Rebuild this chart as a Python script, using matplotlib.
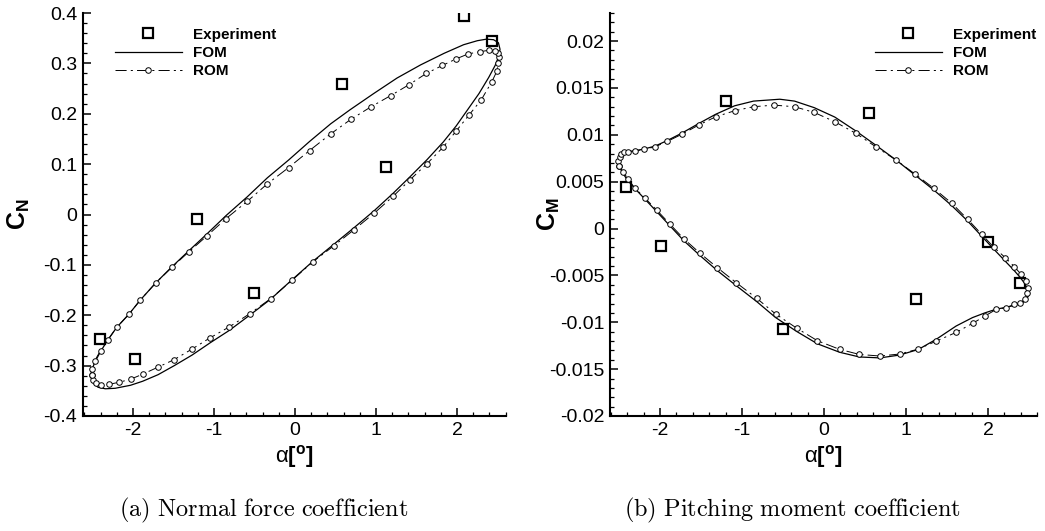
import numpy as np
import matplotlib
matplotlib.use("Agg")
import matplotlib.pyplot as plt
from matplotlib.ticker import MultipleLocator, FuncFormatter

plt.rcParams['font.family'] = ['Liberation Sans', 'DejaVu Sans']
plt.rcParams['mathtext.fontset'] = 'custom'
plt.rcParams['mathtext.rm'] = 'Liberation Sans'
plt.rcParams['mathtext.bf'] = 'Liberation Sans:bold'
plt.rcParams['mathtext.it'] = 'Liberation Sans:italic'
plt.rcParams['axes.unicode_minus'] = False
plt.rcParams['lines.scale_dashes'] = False

# ---- data ----
# (a) normal force coefficient
exp_n_alpha = [2.09, 2.43, 0.58, 1.12, -1.21, -0.51, -2.41, -1.98]
exp_n_cn = [0.394, 0.345, 0.259, 0.095, -0.009, -0.155, -0.248, -0.287]

fom_n_alpha = [-2.52, -2.49, -2.43, -2.34, -2.22, -2.03, -1.88, -1.69, -1.49, -1.27,
               -1.05, -0.81, -0.56, -0.30, -0.04, 0.22, 0.48, 0.73, 0.98, 1.21,
               1.42, 1.63, 1.83, 1.99, 2.13, 2.27, 2.39, 2.47, 2.51, 2.53,
               2.51, 2.45, 2.36, 2.25, 2.08, 1.84, 1.55, 1.26, 0.97, 0.68,
               0.44, 0.18, -0.08, -0.34, -0.59, -0.85, -1.09, -1.31, -1.52, -1.72,
               -1.91, -2.05, -2.20, -2.31, -2.40, -2.47, -2.51]
fom_n_cn = [-0.322, -0.335, -0.343, -0.346, -0.345, -0.339, -0.331, -0.318, -0.300, -0.279,
            -0.255, -0.230, -0.200, -0.168, -0.130, -0.093, -0.059, -0.026, 0.008, 0.042,
            0.075, 0.109, 0.144, 0.176, 0.208, 0.240, 0.272, 0.296, 0.312, 0.328,
            0.341, 0.347, 0.348, 0.345, 0.337, 0.320, 0.297, 0.271, 0.240, 0.208,
            0.180, 0.145, 0.108, 0.073, 0.035, -0.002, -0.039, -0.072, -0.104, -0.136,
            -0.170, -0.198, -0.224, -0.249, -0.272, -0.293, -0.310]

rom_n_alpha = [-2.51, -2.49, -2.45, -2.40, -2.29, -2.17, -2.03, -1.88, -1.69, -1.49,
               -1.27, -1.05, -0.81, -0.56, -0.30, -0.04, 0.22, 0.48, 0.73, 0.98,
               1.21, 1.42, 1.63, 1.83, 1.99, 2.15, 2.30, 2.43, 2.49, 2.51,
               2.52, 2.51, 2.47, 2.39, 2.28, 2.14, 1.99, 1.82, 1.62, 1.41,
               1.18, 0.94, 0.69, 0.44, 0.18, -0.08, -0.34, -0.59, -0.85, -1.09,
               -1.31, -1.52, -1.72, -1.91, -2.05, -2.20, -2.31, -2.40, -2.47, -2.51]
rom_n_cn = [-0.319, -0.329, -0.335, -0.339, -0.337, -0.333, -0.327, -0.317, -0.303, -0.288,
            -0.267, -0.245, -0.223, -0.197, -0.167, -0.131, -0.094, -0.062, -0.030, 0.003,
            0.036, 0.069, 0.101, 0.134, 0.166, 0.198, 0.228, 0.264, 0.284, 0.301,
            0.313, 0.321, 0.325, 0.326, 0.323, 0.319, 0.309, 0.296, 0.280, 0.258,
            0.236, 0.214, 0.189, 0.160, 0.127, 0.093, 0.061, 0.026, -0.008, -0.043,
            -0.074, -0.105, -0.136, -0.170, -0.198, -0.224, -0.249, -0.270, -0.290, -0.307]

# (b) pitching moment coefficient
exp_m_alpha = [-1.19, 0.55, -2.42, -1.99, 2.00, 2.39, 1.12, -0.50]
exp_m_cm = [0.01364, 0.01235, 0.00439, -0.00187, -0.00148, -0.00578, -0.00752, -0.01076]

fom_m_alpha = [-2.52, -2.50, -2.46, -2.40, -2.30, -2.19, -2.06, -1.91, -1.73, -1.53,
               -1.32, -1.09, -0.86, -0.54, -0.36, -0.12, 0.13, 0.39, 0.63, 0.88,
               1.11, 1.34, 1.55, 1.74, 1.91, 2.07, 2.20, 2.31, 2.39, 2.45,
               2.49, 2.49, 2.46, 2.40, 2.32, 2.22, 2.10, 1.96, 1.81, 1.61,
               1.37, 1.15, 0.92, 0.68, 0.43, 0.19, -0.08, -0.33, -0.59, -0.82,
               -1.07, -1.30, -1.51, -1.71, -1.88, -2.04, -2.18, -2.31, -2.40, -2.46]
fom_m_cm = [0.0070, 0.0076, 0.0080, 0.0082, 0.0083, 0.0085, 0.0088, 0.0094, 0.0102, 0.0112,
            0.0122, 0.0131, 0.0136, 0.0138, 0.0136, 0.0129, 0.0119, 0.0104, 0.0089, 0.0073,
            0.0057, 0.0041, 0.0025, 0.0009, -0.0007, -0.0022, -0.0034, -0.0044, -0.0052, -0.0059,
            -0.0067, -0.0072, -0.0077, -0.0080, -0.0082, -0.0084, -0.0086, -0.0090, -0.0095, -0.0104,
            -0.0118, -0.0129, -0.0135, -0.0138, -0.0137, -0.0132, -0.0123, -0.0110, -0.0095, -0.0078,
            -0.0061, -0.0045, -0.0029, -0.0013, 0.0003, 0.0018, 0.0031, 0.0043, 0.0052, 0.0060]

rom_m_alpha = [-2.50, -2.51, -2.49, -2.47, -2.44, -2.39, -2.31, -2.19, -2.06, -1.91,
               -1.73, -1.53, -1.32, -1.09, -0.86, -0.61, -0.36, -0.12, 0.13, 0.39,
               0.63, 0.88, 1.11, 1.34, 1.56, 1.75, 1.92, 2.07, 2.21, 2.32,
               2.40, 2.46, 2.49, 2.48, 2.45, 2.39, 2.32, 2.22, 2.10, 1.96,
               1.81, 1.61, 1.37, 1.15, 0.92, 0.68, 0.43, 0.19, -0.08, -0.33,
               -0.59, -0.82, -1.07, -1.30, -1.51, -1.71, -1.88, -2.04, -2.18, -2.31,
               -2.39, -2.45]
rom_m_cm = [0.00667, 0.00723, 0.00766, 0.00794, 0.00819, 0.00816, 0.00830, 0.00844, 0.00873, 0.00930,
            0.01008, 0.01104, 0.01193, 0.01257, 0.01300, 0.01317, 0.01300, 0.01239, 0.01140, 0.01015,
            0.00873, 0.00730, 0.00581, 0.00428, 0.00268, 0.00100, -0.00059, -0.00200, -0.00311, -0.00407,
            -0.00486, -0.00560, -0.00638, -0.00692, -0.00756, -0.00791, -0.00809, -0.00845, -0.00862, -0.00934,
            -0.01012, -0.01108, -0.01200, -0.01286, -0.01339, -0.01360, -0.01343, -0.01289, -0.01197, -0.01065,
            -0.00912, -0.00745, -0.00578, -0.00418, -0.00265, -0.00109, 0.00048, 0.00197, 0.00322, 0.00435,
            0.00528, 0.00606]

legend_labels = ['Experiment', 'FOM', 'ROM']
captions = ['(a) Normal force coefficient', '(b) Pitching moment coefficient']


def closed(v):
    return np.append(v, v[0])


def fmt(v, pos):
    if abs(v) < 1e-12:
        return '0'
    return '%g' % v


def style_axes(ax, xlim, ylim, ymajor, yminor):
    ax.set_xlim(*xlim)
    ax.set_ylim(*ylim)
    ax.spines['top'].set_visible(False)
    ax.spines['right'].set_visible(False)
    for s in ['left', 'bottom']:
        ax.spines[s].set_linewidth(1.5)
    ax.xaxis.set_major_locator(MultipleLocator(1))
    ax.xaxis.set_minor_locator(MultipleLocator(0.2))
    ax.yaxis.set_major_locator(MultipleLocator(ymajor))
    ax.yaxis.set_minor_locator(MultipleLocator(yminor))
    ax.xaxis.set_major_formatter(FuncFormatter(fmt))
    ax.yaxis.set_major_formatter(FuncFormatter(fmt))
    ax.tick_params(which='both', direction='in', top=False, right=False)
    ax.tick_params(which='major', length=5.5, width=1.1, labelsize=14)
    ax.tick_params(which='minor', length=3, width=0.9)
    ax.tick_params(axis='x', which='major', pad=4)
    ax.tick_params(axis='y', which='major', pad=4)


def draw(ax, ea, ev, fa, fv, ra, rv):
    h1, = ax.plot(ea, ev, 's', ms=7.5, mfc='none', mec='k', mew=1.6, ls='none')
    h2, = ax.plot(closed(fa), closed(fv), '-', color='k', lw=0.9)
    h3, = ax.plot(closed(ra), closed(rv), color='k', lw=0.7, ls=(0, (8, 3, 1.5, 3)),
                  marker='o', ms=4, mfc='white', mec='k', mew=0.7)
    return [h1, h2, h3]


fig = plt.figure(figsize=(10.45, 5.31), dpi=100)
W, H = 1045.0, 531.0
ax1 = fig.add_axes([82.7 / W, 1 - 416 / H, 423 / W, 403 / H])
ax2 = fig.add_axes([610 / W, 1 - 416 / H, 427.3 / W, 403 / H])

hs1 = draw(ax1, exp_n_alpha, exp_n_cn, fom_n_alpha, fom_n_cn, rom_n_alpha, rom_n_cn)
hs2 = draw(ax2, exp_m_alpha, exp_m_cm, fom_m_alpha, fom_m_cm, rom_m_alpha, rom_m_cm)

style_axes(ax1, (-2.62, 2.6), (-0.4, 0.4), 0.1, 0.02)
style_axes(ax2, (-2.61, 2.6), (-0.02, 0.023), 0.005, 0.001)

leg_kw = dict(frameon=False, borderpad=0, handlelength=4.4, handletextpad=0.7,
              labelspacing=0.28, numpoints=1, prop={'weight': 'bold', 'size': 11},
              loc='upper left', bbox_transform=fig.transFigure)
ax1.legend(hs1, legend_labels, bbox_to_anchor=(107 / W, 1 - 20 / H), **leg_kw)
ax2.legend(hs2, legend_labels, bbox_to_anchor=(867 / W, 1 - 20 / H), **leg_kw)

# axis labels
xlab = 'α$\\mathbf{[^o]}$'
fig.text(294 / W, 1 - 457 / H, xlab, fontsize=16, ha='center', va='center')
fig.text(823 / W, 1 - 457 / H, xlab, fontsize=16, ha='center', va='center')
fig.text(19 / W, 1 - 214 / H, '$\\mathbf{C_N}$', fontsize=18, rotation=90, ha='center', va='center')
fig.text(549 / W, 1 - 214 / H, '$\\mathbf{C_M}$', fontsize=18, rotation=90, ha='center', va='center')

# captions
for cx, cap in zip([264, 792], captions):
    s = '$\\mathrm{' + cap.replace(' ', '\\ ') + '}$'
    fig.text(cx / W, 1 - 510 / H, s, fontsize=17.5, ha='center', va='center', math_fontfamily='cm')

fig.savefig('out.png', dpi=100)
